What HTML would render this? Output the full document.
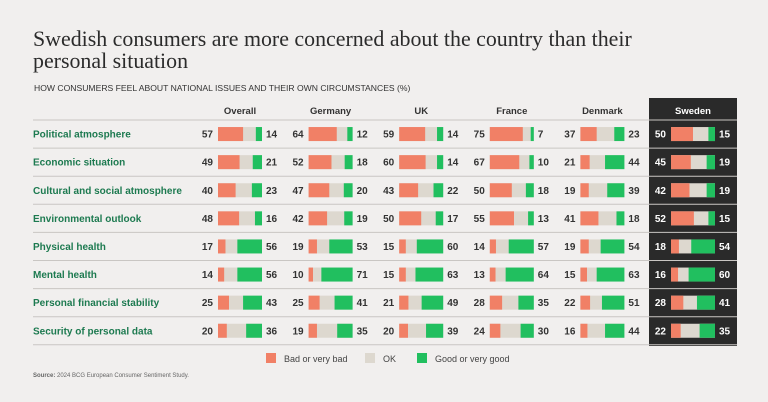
<!DOCTYPE html>
<html><head><meta charset="utf-8"><style>
body{margin:0;background:#f1efee;}
svg{display:block;font-family:"Liberation Sans",sans-serif;}
</style></head><body>
<svg id="c" width="768" height="402">
<rect width="768" height="402" fill="#f1efee"/>
<text x="33" y="46" font-family="Liberation Serif" font-size="21.9" fill="#2b2b2b">Swedish consumers are more concerned about the country than their</text>
<text x="33" y="68" font-family="Liberation Serif" font-size="21.9" fill="#2b2b2b">personal situation</text>
<text x="34" y="91" font-size="8.6" fill="#333">HOW CONSUMERS FEEL ABOUT NATIONAL ISSUES AND THEIR OWN CIRCUMSTANCES (%)</text>
<rect x="649" y="98" width="88" height="248" fill="#2a2a2a"/>
<g id="g"></g>
<rect x="266" y="353" width="10" height="10" fill="#f18066"/>
<text x="284" y="362" font-size="9" fill="#444">Bad or very bad</text>
<rect x="365" y="353" width="10" height="10" fill="#ddd8cf"/>
<text x="383" y="362" font-size="9" fill="#444">OK</text>
<rect x="417" y="353" width="10" height="10" fill="#21bf5f"/>
<text x="435" y="362" font-size="9" fill="#444">Good or very good</text>
<text x="33" y="377" font-size="6" fill="#666"><tspan font-weight="bold">Source:</tspan> 2024 BCG European Consumer Sentiment Study.</text>
</svg>
<script>
const countries=["Overall","Germany","UK","France","Denmark","Sweden"];
const rows=["Political atmosphere","Economic situation","Cultural and social atmosphere","Environmental outlook","Physical health","Mental health","Personal financial stability","Security of personal data"];
const bad=[[57,64,59,75,37,50],[49,52,60,67,21,45],[40,47,43,50,19,42],[48,42,50,55,41,52],[17,19,15,14,19,18],[14,10,15,13,15,16],[25,25,21,28,22,28],[20,19,20,24,16,22]];
const good=[[14,12,14,7,23,15],[21,18,14,10,44,19],[23,20,22,18,39,19],[16,19,17,13,18,15],[56,53,60,57,54,54],[56,71,63,64,63,60],[43,41,49,35,51,41],[36,35,39,30,44,35]];
const NS="http://www.w3.org/2000/svg";
const g=document.getElementById('g');
const colX=i=>218+i*90.6, BW=44, rowTop=120, RH=28.1;
const sx=v=>v/100*BW;
const rowY=r=>rowTop+r*RH+RH/2;
function mk(t,a,txt){const e=document.createElementNS(NS,t);for(const k in a)e.setAttribute(k,a[k]);if(txt!=null)e.textContent=txt;g.appendChild(e);return e;}
countries.forEach((c,i)=>{
  const e=mk('text',{x:colX(i)+BW/2,y:114,'text-anchor':'middle','font-size':9.5,'font-weight':'bold',fill:i==5?'#fff':'#333'},c);
  
  
});
for(let r=0;r<=rows.length;r++){
  const l=mk('line',{x1:33,x2:737,y1:rowTop+r*RH,y2:rowTop+r*RH,stroke:'#c9c6c3','stroke-width':1});
  
  
}
rows.forEach((rn,r)=>{
  const y=rowY(r);
  const t=mk('text',{x:33,y:y+3.5,'font-size':10,'font-weight':'bold',fill:'#1d7a50'},rn);
  
  
  countries.forEach((c,i)=>{
    const x=colX(i), b=bad[r][i], gd=good[r][i], dark=i==5;
    const ok=mk('rect',{x:x,y:y-7,width:BW,height:14,fill:'#ddd8cf'});
    
    
    const br=mk('rect',{x:x,y:y-7,width:sx(b),height:14,fill:'#f18066'});
    
    
    const gr=mk('rect',{x:x+BW-sx(gd),y:y-7,width:sx(gd),height:14,fill:'#21bf5f'});
    
    
    const lv=mk('text',{x:x-5,y:y+3.5,'text-anchor':'end','font-size':10,'font-weight':'bold',fill:dark?'#fff':'#333'},b);
    
    
    const rv=mk('text',{x:x+BW+4,y:y+3.5,'font-size':10,'font-weight':'bold',fill:dark?'#fff':'#333'},gd);
    
    
  });
});
</script>
</body></html>
